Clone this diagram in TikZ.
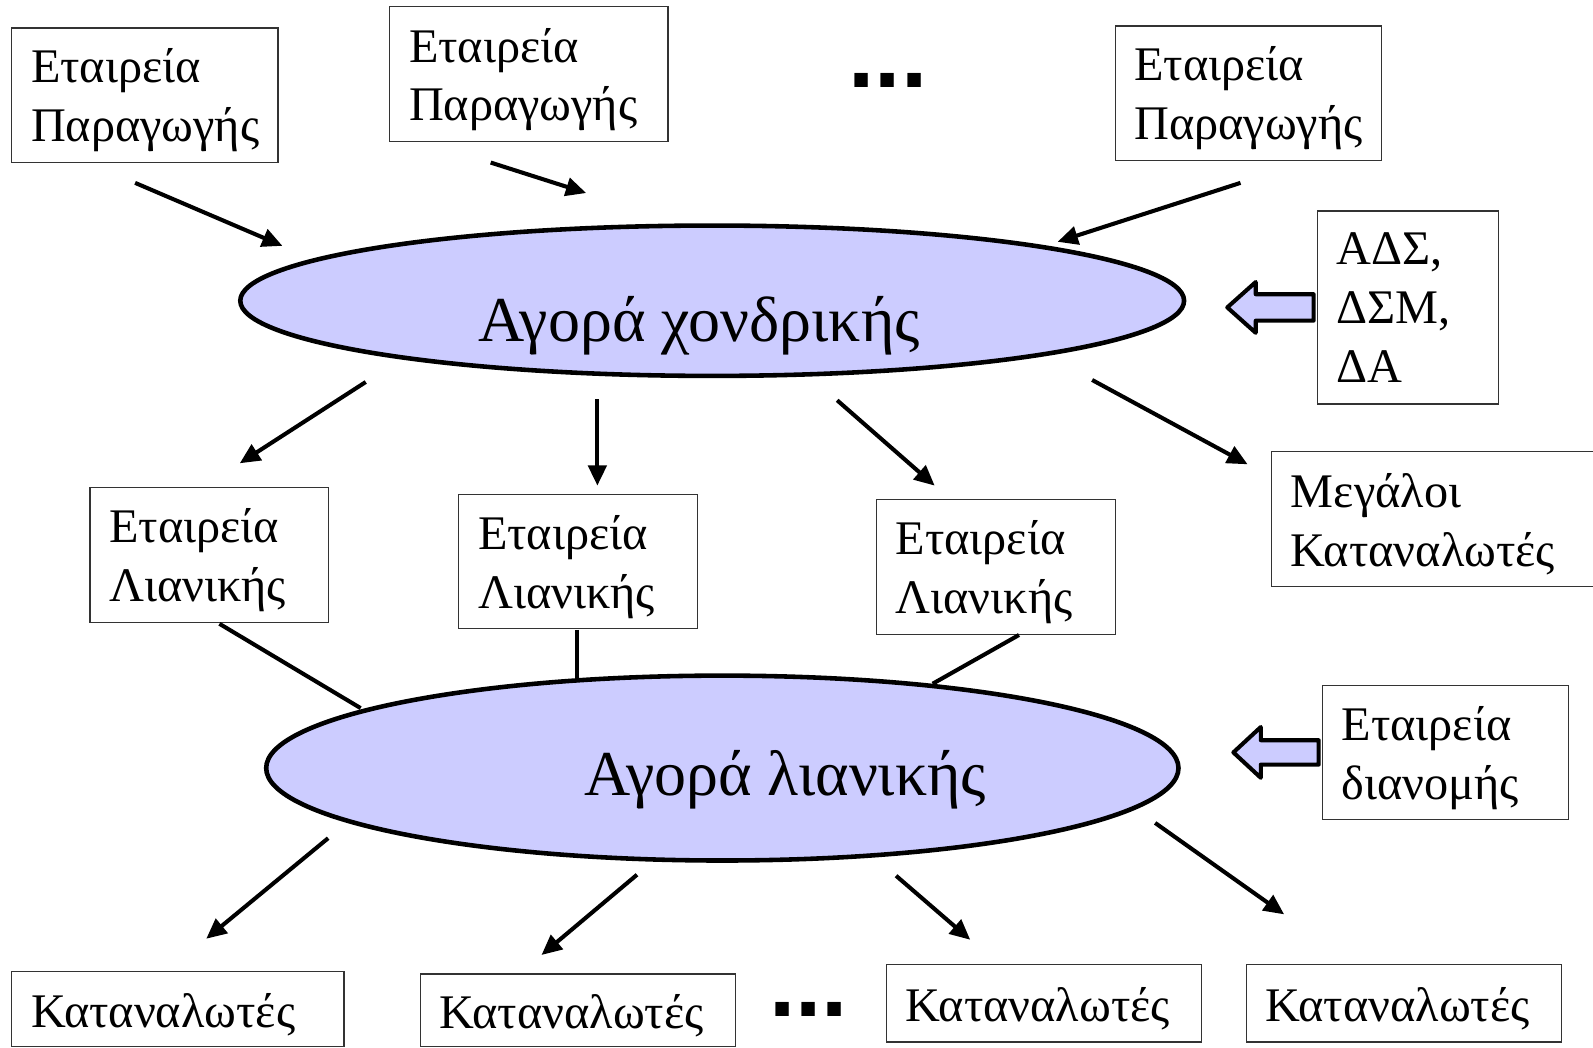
\documentclass[tikz,border=0pt]{standalone}
\usepackage{fontspec}
\setmainfont{Liberation Serif}
\newfontfamily\dotsfont{Liberation Sans}
\usetikzlibrary{shapes.geometric,arrows.meta,calc}
\definecolor{lav}{RGB}{204,204,255}
\begin{document}
\begin{tikzpicture}[x=1pt,y=-1pt,
  box/.style={draw=black!80, line width=1.2pt, anchor=north west, align=left,
    inner xsep=19pt, inner ysep=0pt, font=\fontsize{47.5}{58}\selectfont},
  strutted/.style={execute at begin node={\rule{0pt}{44pt}}},
  arr/.style={line width=4pt, -{Triangle[length=20pt,width=18pt]}},
  link/.style={line width=4pt},
  market/.style={ellipse, draw, line width=4.5pt, fill=lav, inner sep=0pt},
  mlabel/.style={anchor=base, font=\fontsize{63}{70}\selectfont},
  hollow/.style={draw, line width=4pt, fill=lav, line join=round},
  dotsnode/.style={anchor=base west, inner sep=0pt, font=\dotsfont\bfseries\fontsize{93}{93}\selectfont}]
\useasboundingbox (0,0) rectangle (1568,1031.5);

% producer boxes
\node[box, strutted, text width=224pt, minimum height=132pt] (p1) at (11,27) {Εταιρεία\\Παραγωγής};
\node[box, strutted, text width=236pt, minimum height=133pt] (p2) at (383,6) {Εταιρεία\\Παραγωγής};
\node[box, strutted, text width=224pt, minimum height=132pt] (p3) at (1097,25) {Εταιρεία\\Παραγωγής};
\node[dotsnode] (dtop) at (835,86) {...};

% regulators box
\node[box, text width=140pt, minimum height=190pt] (ads) at (1296,207) {ΑΔΣ,\\ΔΣΜ,\\ΔΑ};

% wholesale market
\node[market, minimum width=929pt, minimum height=148pt] (whole) at (701,296) {};
\node[mlabel] (wlabel) at (688,336) {Αγορά χονδρικής};

% retail companies
\node[box, strutted, text width=197pt, minimum height=133pt] (r1) at (88,479) {Εταιρεία\\Λιανικής};
\node[box, strutted, text width=197pt, minimum height=132pt] (r2) at (451,486) {Εταιρεία\\Λιανικής};
\node[box, strutted, text width=197pt, minimum height=133pt] (r3) at (862,491) {Εταιρεία\\Λιανικής};
\node[box, strutted, text width=286pt, minimum height=133pt] (mk) at (1251,444) {Μεγάλοι\\Καταναλωτές};

% retail market
\node[market, minimum width=898pt, minimum height=182pt] (retail) at (711,756) {};
\node[mlabel] (rlabel) at (773,783) {Αγορά λιανικής};

% distribution box
\node[box, strutted, text width=204pt, minimum height=132pt] (dist) at (1301,674) {Εταιρεία\\διανομής};

% consumers
\node[box, strutted, text width=289pt, minimum height=73.5pt] (c1) at (11,956) {Καταναλωτές};
\node[box, strutted, text width=272pt, minimum height=71.5pt] (c2) at (413,958) {Καταναλωτές};
\node[dotsnode] (dbot) at (757,1001) {...};
\node[box, strutted, text width=272pt, minimum height=76pt] (c3) at (872,949) {Καταναλωτές};
\node[box, strutted, text width=272pt, minimum height=76pt] (c4) at (1226,949) {Καταναλωτές};

% connector end points
\coordinate (a1s) at (133,180); \coordinate (a1e) at (278,242);
\coordinate (a2s) at (483,160); \coordinate (a2e) at (577,190);
\coordinate (a3s) at (1221,180); \coordinate (a3e) at (1041,238);
\coordinate (b1s) at (360,376); \coordinate (b1e) at (236,456);
\coordinate (b2s) at (588,393); \coordinate (b2e) at (588,478);
\coordinate (b3s) at (824,394); \coordinate (b3e) at (920,478);
\coordinate (b4s) at (1075,374); \coordinate (b4e) at (1228,457);
\coordinate (l1s) at (216,614); \coordinate (l1e) at (355,697);
\coordinate (l2s) at (568,620); \coordinate (l2e) at (568,668);
\coordinate (l3s) at (1003,625); \coordinate (l3e) at (918,673);
\coordinate (d1s) at (323,825); \coordinate (d1e) at (203,924);
\coordinate (d2s) at (627,861); \coordinate (d2e) at (533,940);
\coordinate (d3s) at (882,862); \coordinate (d3e) at (955,925);
\coordinate (d4s) at (1137,810); \coordinate (d4e) at (1264,900);

% producers -> wholesale market
\draw[arr] (a1s) -- (a1e);
\draw[arr] (a2s) -- (a2e);
\draw[arr] (a3s) -- (a3e);
% wholesale market -> retail companies / large consumers
\draw[arr] (b1s) -- (b1e);
\draw[arr] (b2s) -- (b2e);
\draw[arr] (b3s) -- (b3e);
\draw[arr] (b4s) -- (b4e);
% retail companies -- retail market
\draw[link] (l1s) -- (l1e);
\draw[link] (l2s) -- (l2e);
\draw[link] (l3s) -- (l3e);
% retail market -> consumers
\draw[arr] (d1s) -- (d1e);
\draw[arr] (d2s) -- (d2e);
\draw[arr] (d3s) -- (d3e);
\draw[arr] (d4s) -- (d4e);

% hollow block arrows
\draw[hollow] ($(ads.west)+(-3,-13)$) -- ++(-57,0) -- ++(0,-12) -- ($(ads.west)+(-88,0)$)
  -- ($(ads.west)+(-60,25)$) -- ++(0,-12) -- ($(ads.west)+(-3,13)$) -- cycle;
\draw[hollow] ($(dist.west)+(-3,-12)$) -- ++(-57,0) -- ++(0,-13) -- ($(dist.west)+(-87,0)$)
  -- ($(dist.west)+(-60,25)$) -- ++(0,-13) -- ($(dist.west)+(-3,12)$) -- cycle;
\end{tikzpicture}
\end{document}
